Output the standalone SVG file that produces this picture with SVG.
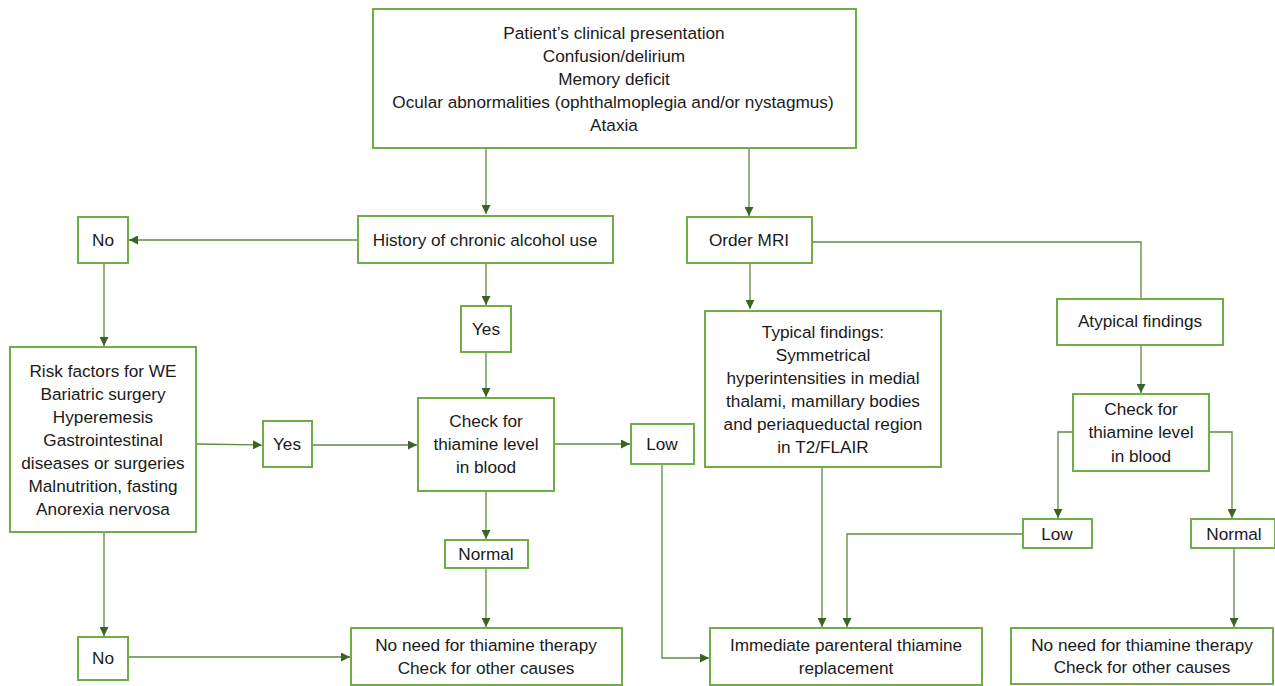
<svg xmlns="http://www.w3.org/2000/svg" width="1275" height="686" viewBox="0 0 1275 686">
<style>
.box{fill:#fff;stroke:#70ad47;stroke-width:2}
.t{font-family:"Liberation Sans",Arial,sans-serif;font-size:17.2px;fill:#1a1a1a;text-anchor:middle}
.c{fill:none;stroke:#5b8a3e;stroke-width:1.3}
</style>
<defs>
<marker id="a" viewBox="0 0 10 10" refX="10" refY="5" markerWidth="9" markerHeight="9" markerUnits="userSpaceOnUse" orient="auto">
<path d="M0,0 L10,5 L0,10 Z" fill="#3b6424"/>
</marker>
</defs>
<rect width="1275" height="686" fill="#fff"/>
<g id="connectors">
<path class="c" d="M486,148 V214" marker-end="url(#a)"/>
<path class="c" d="M749,148 V216" marker-end="url(#a)"/>
<path class="c" d="M358,240 H129" marker-end="url(#a)"/>
<path class="c" d="M104,263 V346" marker-end="url(#a)"/>
<path class="c" d="M197,444 L262,445" marker-end="url(#a)"/>
<path class="c" d="M312,445 H417" marker-end="url(#a)"/>
<path class="c" d="M486,263 V305" marker-end="url(#a)"/>
<path class="c" d="M486,352 V397" marker-end="url(#a)"/>
<path class="c" d="M554,444 H630" marker-end="url(#a)"/>
<path class="c" d="M486,491 V539" marker-end="url(#a)"/>
<path class="c" d="M486,568 V627" marker-end="url(#a)"/>
<path class="c" d="M104,532 V636" marker-end="url(#a)"/>
<path class="c" d="M128,657 H350" marker-end="url(#a)"/>
<path class="c" d="M662,464 V658 H709" marker-end="url(#a)"/>
<path class="c" d="M750,263 V309" marker-end="url(#a)"/>
<path class="c" d="M812,242 H1141 V299"/>
<path class="c" d="M822,467 V627" marker-end="url(#a)"/>
<path class="c" d="M1141,345 V393" marker-end="url(#a)"/>
<path class="c" d="M1073,432 H1058 V518" marker-end="url(#a)"/>
<path class="c" d="M1209,432 H1232 V518" marker-end="url(#a)"/>
<path class="c" d="M1023,534 H847 V627" marker-end="url(#a)"/>
<path class="c" d="M1234,548 V627" marker-end="url(#a)"/>
</g>
<g id="presentation">
<rect class="box" x="373" y="9" width="483" height="139"/>
<text class="t" x="614" y="39">Patient’s clinical presentation</text>
<text class="t" x="614" y="62">Confusion/delirium</text>
<text class="t" x="614" y="85">Memory deficit</text>
<text class="t" x="613" y="108">Ocular abnormalities (ophthalmoplegia and/or nystagmus)</text>
<text class="t" x="614" y="131">Ataxia</text>
</g>
<g id="history">
<rect class="box" x="358" y="216" width="255" height="47"/>
<text class="t" x="485" y="246">History of chronic alcohol use</text>
</g>
<g id="no-top">
<rect class="box" x="78" y="217" width="50" height="46"/>
<text class="t" x="103" y="246">No</text>
</g>
<g id="risk">
<rect class="box" x="10" y="347" width="186" height="185"/>
<text class="t" x="103" y="377">Risk factors for WE</text>
<text class="t" x="103" y="400">Bariatric surgery</text>
<text class="t" x="103" y="423">Hyperemesis</text>
<text class="t" x="103" y="446">Gastrointestinal</text>
<text class="t" x="103" y="469">diseases or surgeries</text>
<text class="t" x="103" y="492">Malnutrition, fasting</text>
<text class="t" x="103" y="515">Anorexia nervosa</text>
</g>
<g id="yes-left">
<rect class="box" x="263" y="421" width="49" height="46"/>
<text class="t" x="287" y="450">Yes</text>
</g>
<g id="yes-top">
<rect class="box" x="461" y="306" width="50" height="46"/>
<text class="t" x="486" y="335">Yes</text>
</g>
<g id="check-left">
<rect class="box" x="418" y="398" width="136" height="93"/>
<text class="t" x="486" y="427">Check for</text>
<text class="t" x="486" y="450">thiamine level</text>
<text class="t" x="486" y="473">in blood</text>
</g>
<g id="low-left">
<rect class="box" x="631" y="424" width="63" height="40"/>
<text class="t" x="662" y="450">Low</text>
</g>
<g id="normal-left">
<rect class="box" x="445" y="540" width="83" height="28"/>
<text class="t" x="486" y="560">Normal</text>
</g>
<g id="no-bottom">
<rect class="box" x="78" y="637" width="50" height="43"/>
<text class="t" x="103" y="664">No</text>
</g>
<g id="noneed-left">
<rect class="box" x="351" y="628" width="271" height="57"/>
<text class="t" x="486" y="651">No need for thiamine therapy</text>
<text class="t" x="486" y="674">Check for other causes</text>
</g>
<g id="order-mri">
<rect class="box" x="687" y="217" width="125" height="46"/>
<text class="t" x="749" y="246">Order MRI</text>
</g>
<g id="typical">
<rect class="box" x="705" y="311" width="236" height="156"/>
<text class="t" x="823" y="338">Typical findings:</text>
<text class="t" x="823" y="361">Symmetrical</text>
<text class="t" x="823" y="384">hyperintensities in medial</text>
<text class="t" x="823" y="407">thalami, mamillary bodies</text>
<text class="t" x="823" y="430">and periaqueductal region</text>
<text class="t" x="823" y="453">in T2/FLAIR</text>
</g>
<g id="atypical">
<rect class="box" x="1057" y="299" width="166" height="46"/>
<text class="t" x="1140" y="327">Atypical findings</text>
</g>
<g id="check-right">
<rect class="box" x="1073" y="394" width="136" height="77"/>
<text class="t" x="1141" y="415">Check for</text>
<text class="t" x="1141" y="438">thiamine level</text>
<text class="t" x="1141" y="462">in blood</text>
</g>
<g id="low-right">
<rect class="box" x="1023" y="519" width="69" height="29"/>
<text class="t" x="1057" y="540">Low</text>
</g>
<g id="normal-right">
<rect class="box" x="1191" y="519" width="84" height="29"/>
<text class="t" x="1234" y="540">Normal</text>
</g>
<g id="immediate">
<rect class="box" x="710" y="628" width="272" height="57"/>
<text class="t" x="846" y="651">Immediate parenteral thiamine</text>
<text class="t" x="846" y="674">replacement</text>
</g>
<g id="noneed-right">
<rect class="box" x="1011" y="628" width="262" height="56"/>
<text class="t" x="1142" y="651">No need for thiamine therapy</text>
<text class="t" x="1142" y="673">Check for other causes</text>
</g>
</svg>
